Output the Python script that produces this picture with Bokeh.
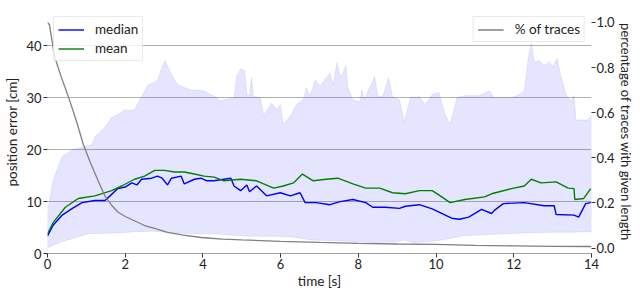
from bokeh.plotting import figure
from bokeh.models import Range1d, LinearAxis, Legend, LegendItem, FixedTicker, PrintfTickFormatter
from bokeh.embed import file_html
from bokeh.resources import INLINE

# ---------------- data ----------------
t_upper = [0, 0.15, 0.38, 0.64, 0.9, 1.15, 1.22, 1.48, 1.65, 1.81, 2.0, 2.07, 2.24, 2.42, 2.58, 2.7,
           2.83, 2.95, 3.03, 3.12, 3.19, 3.35, 3.5, 3.7, 3.95, 4.03, 4.2, 4.29, 4.46, 4.54, 4.8, 4.87,
           4.97, 5.07, 5.13, 5.2, 5.25, 5.3, 5.48, 5.56, 5.77, 5.82, 5.9, 5.99, 6.07, 6.28, 6.4, 6.58,
           6.66, 6.76, 6.89, 7.02, 7.17, 7.27, 7.35, 7.45, 7.55, 7.68, 7.73, 7.86, 8.04, 8.09, 8.15,
           8.29, 8.42, 8.5, 8.62, 8.78, 8.88, 9.06, 9.18, 9.34, 9.57, 9.72, 9.9, 10.07, 10.23, 10.36,
           10.54, 10.74, 11.1, 11.38, 11.5, 11.73, 11.94, 12.14, 12.27, 12.37, 12.45, 12.53, 12.65,
           12.78, 12.91, 13.01, 13.11, 13.21, 13.34, 13.47, 13.55, 13.6, 13.9, 14.0]
upper = [8, 14.3, 18.7, 20, 20.5, 21, 22.5, 24.3, 26.2, 26.8, 27.7, 27.5, 27.7, 30.2, 32.4, 32.8,
         33.3, 36, 37.2, 35.5, 34.5, 32.5, 32, 31.5, 31.4, 31.3, 30.6, 30.3, 29.4, 29.6, 30, 34.3,
         35.5, 35.3, 30.6, 30.4, 33.8, 30.2, 30, 26.6, 29, 28.5, 27.7, 28.7, 24.9, 26.8, 28.7, 29.6,
         31.9, 30.4, 33.4, 32.3, 33.8, 34.7, 32.5, 36.8, 33.8, 36.2, 31.9, 29.6, 29.2, 31.5, 29.6,
         31.9, 34.1, 30.4, 30.2, 33.8, 30.2, 29.6, 25.3, 30, 30.2, 28.7, 30.6, 31, 26.8, 24.9,
         30, 30.4, 30.4, 31.3, 30, 30, 30, 30.6, 31.3, 37.5, 40.4, 36.9, 37.2,
         36.2, 36.9, 36, 37.5, 34.3, 30.6, 29.4, 30.4, 25.7, 25.7, 26.6]

t_lower = [0, 0.15, 0.38, 0.7, 1.05, 1.5, 1.9, 2.3, 2.7, 3.2, 3.8, 4.3, 4.8, 5.3, 5.8, 6.3, 6.8,
           7.3, 7.8, 8.4, 8.9, 9.2, 9.4, 9.9, 10.3, 10.7, 11.2, 11.8, 12.4, 13.0, 13.5, 14.0]
lower = [1.1, 1.6, 2.3, 3.0, 3.8, 3.9, 4.0, 4.2, 4.3, 4.0, 3.8, 3.8, 3.5, 3.3, 3.3, 3.2, 2.6,
         2.5, 2.3, 2.1, 2.2, 2.6, 2.1, 2.3, 2.8, 3.4, 3.6, 3.8, 4.0, 4.1, 4.1, 4.2]

t_median = [0, 0.15, 0.38, 0.64, 0.89, 1.22, 1.48, 1.61, 1.81, 2.0, 2.17, 2.3, 2.42, 2.68, 2.83,
            2.95, 3.09, 3.19, 3.44, 3.52, 3.78, 3.95, 4.1, 4.29, 4.54, 4.72, 4.8, 4.97, 5.13, 5.2,
            5.38, 5.64, 5.99, 6.25, 6.5, 6.63, 6.91, 7.27, 7.53, 7.86, 8.19, 8.37, 8.7, 9.06, 9.21,
            9.57, 9.9, 10.4, 10.6, 10.84, 11.17, 11.43, 11.5, 11.73, 12.27, 12.78, 13.04, 13.09,
            13.55, 13.67, 13.85, 13.98]
median = [3.4, 5.5, 7.4, 8.7, 9.8, 10.2, 10.2, 11.1, 12.5, 12.8, 13.6, 13.2, 14.3, 14.5, 14.9,
          14.5, 13.2, 14.5, 14.9, 13.4, 14.3, 14.5, 14.0, 14.0, 14.3, 14.5, 13.0, 12.1, 13.2, 11.9,
          13.0, 11.1, 11.7, 11.1, 11.7, 9.8, 9.8, 9.4, 10.0, 10.4, 9.8, 8.9, 8.9, 8.7, 9.1,
          9.4, 8.6, 6.8, 6.6, 7.0, 8.5, 7.7, 8.3, 9.6, 9.8, 9.2, 9.2, 7.5,
          7.4, 7.0, 9.6, 9.8]

t_mean = [0, 0.15, 0.46, 0.79, 1.22, 1.65, 1.91, 2.24, 2.5, 2.76, 3.01, 3.27, 3.52, 3.78, 4.03,
          4.29, 4.54, 4.97, 5.38, 5.82, 6.07, 6.33, 6.56, 6.84, 7.17, 7.47, 7.86, 8.19, 8.55, 8.88,
          9.21, 9.57, 9.9, 10.07, 10.36, 10.74, 11.25, 11.43, 11.94, 12.27, 12.45, 12.7, 13.09,
          13.4, 13.55, 13.57, 13.8, 13.98]
mean = [3.8, 6.0, 8.9, 10.6, 11.1, 12.1, 13.0, 14.3, 14.9, 16.0, 16.0, 15.7, 15.7, 15.3, 14.9,
        14.7, 14.0, 14.3, 14.0, 12.6, 13.0, 13.6, 15.3, 14.0, 14.3, 14.5, 13.4, 12.6, 12.6, 11.7,
        11.5, 12.1, 12.1, 11.3, 9.8, 10.4, 10.9, 11.5, 12.5, 13.0, 14.3, 13.6, 13.8,
        12.6, 12.5, 10.4, 10.6, 12.5]

t_pct = [0, 0.05, 0.18, 0.35, 0.54, 0.75, 0.92, 1.1, 1.3, 1.48, 1.65, 1.81, 2.0, 2.25, 2.5, 2.8,
         3.09, 3.5, 3.95, 4.5, 5, 6, 7, 8, 9, 10, 11, 12, 13, 14]
pct = [1.0, 0.99, 0.85, 0.76, 0.67, 0.56, 0.46, 0.38, 0.30, 0.23, 0.19, 0.16, 0.14, 0.12, 0.10,
       0.085, 0.07, 0.057, 0.047, 0.040, 0.036, 0.030, 0.025, 0.021, 0.018, 0.016, 0.012, 0.010,
       0.008, 0.007]

x_ticks = [0, 2, 4, 6, 8, 10, 12, 14]
y_ticks = [0, 10, 20, 30, 40]
pct_ticks = [0.0, 0.2, 0.4, 0.6, 0.8, 1.0]

FONT = "Lato"
TXT = "#222222"

p = figure(width=636, height=291, output_backend="svg", toolbar_location=None,
           x_range=Range1d(0, 14), y_range=Range1d(0, 46.8),
           min_border_left=47, min_border_right=40, min_border_top=10, min_border_bottom=37)
p.outline_line_color = None
p.background_fill_color = "white"
p.border_fill_color = "white"
p.extra_y_ranges = {"pct": Range1d(-0.024, 1.053)}

# band
band_x = t_upper + t_lower[::-1]
band_y = upper + lower[::-1]
p.patch(band_x, band_y, fill_color="blue", fill_alpha=0.1, line_color="blue", line_alpha=0.08, line_width=1)

r_med = p.line(t_median, median, line_color="blue", line_width=1.4)
r_mean = p.line(t_mean, mean, line_color="green", line_width=1.4)
r_pct = p.line(t_pct, pct, line_color="grey", line_width=1.3, y_range_name="pct")

# axes
p.xaxis.ticker = FixedTicker(ticks=x_ticks)
p.yaxis.ticker = FixedTicker(ticks=y_ticks)
p.xaxis.axis_label = "time [s]"
p.yaxis.axis_label = "position error [cm]"

ax2 = LinearAxis(y_range_name="pct", axis_label="percentage of traces with given length",
                 ticker=FixedTicker(ticks=pct_ticks), formatter=PrintfTickFormatter(format="%.1f"))
p.add_layout(ax2, "right")

for ax in [p.xaxis[0], p.yaxis[0], ax2]:
    ax.major_label_text_font = FONT
    ax.major_label_text_font_size = "13px"
    ax.major_label_text_color = TXT
    ax.axis_label_text_font = FONT
    ax.axis_label_text_font_size = "13.5px"
    ax.axis_label_text_font_style = "normal"
    ax.axis_label_text_color = TXT
    ax.major_tick_in = 0
    ax.major_tick_out = 4
    ax.minor_tick_in = 0
    ax.minor_tick_out = 0
    ax.major_tick_line_color = "#333333"
    ax.major_label_standoff = 2

p.xaxis.axis_line_color = "#a0a0a0"
p.xaxis.axis_line_width = 1.2
p.xaxis.axis_label_standoff = 1
p.xaxis.major_label_standoff = 1
p.yaxis.axis_line_color = None
p.yaxis.axis_label_standoff = 3
ax2.axis_line_color = None
ax2.axis_label_standoff = 0
ax2.major_label_standoff = 1
ax2.axis_label_text_font_size = "13px"

p.xgrid.grid_line_color = None
p.ygrid.grid_line_color = "#b0b0b0"
p.ygrid.grid_line_width = 1.2

leg1 = Legend(items=[LegendItem(label="median", renderers=[r_med]),
                     LegendItem(label="mean", renderers=[r_mean])],
              location="top_left")
leg2 = Legend(items=[LegendItem(label="% of traces", renderers=[r_pct])], location="top_right")
for lg in [leg1, leg2]:
    lg.margin = 6
    lg.padding = 4
    lg.spacing = 3
    lg.glyph_width = 26
    lg.glyph_height = 15
    lg.label_height = 15
    lg.label_standoff = 11
    lg.label_text_font = FONT
    lg.label_text_font_size = "13.5px"
    lg.label_text_color = TXT
    lg.border_line_color = "#d5d5d5"
    lg.border_line_width = 1
    lg.background_fill_color = "white"
    lg.background_fill_alpha = 0.8
    p.add_layout(lg, "center")

open("out.html", "w").write(file_html(p, INLINE))
